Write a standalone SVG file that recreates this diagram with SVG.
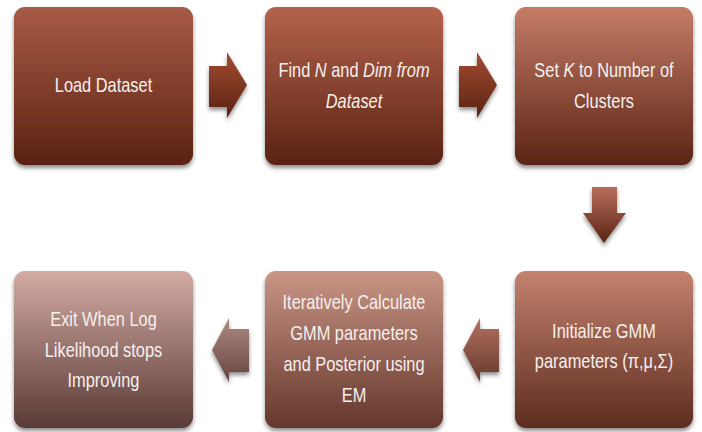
<svg xmlns="http://www.w3.org/2000/svg" width="702" height="432" viewBox="0 0 702 432">
<defs>
<linearGradient id="g1" x1="0" y1="0" x2="0" y2="1"><stop offset="0" stop-color="#a85b45"/><stop offset="1" stop-color="#5a2212"/></linearGradient>
<linearGradient id="g2" x1="0" y1="0" x2="0" y2="1"><stop offset="0" stop-color="#b4634c"/><stop offset="1" stop-color="#5a2212"/></linearGradient>
<linearGradient id="g3" x1="0" y1="0" x2="0" y2="1"><stop offset="0" stop-color="#c47c66"/><stop offset="1" stop-color="#5a2414"/></linearGradient>
<linearGradient id="g6" x1="0" y1="0" x2="0" y2="1"><stop offset="0" stop-color="#c4826f"/><stop offset="1" stop-color="#5c2c1e"/></linearGradient>
<linearGradient id="g5" x1="0" y1="0" x2="0" y2="1"><stop offset="0" stop-color="#c99585"/><stop offset="1" stop-color="#64362c"/></linearGradient>
<linearGradient id="g4" x1="0" y1="0" x2="0" y2="1"><stop offset="0" stop-color="#d3aba3"/><stop offset="1" stop-color="#5a3a36"/></linearGradient>
<linearGradient id="ga" x1="0" y1="0" x2="0" y2="1"><stop offset="0" stop-color="#a44c32"/><stop offset="1" stop-color="#5a2212"/></linearGradient>
<linearGradient id="gd" x1="0" y1="0" x2="0" y2="1"><stop offset="0" stop-color="#b86e5a"/><stop offset="1" stop-color="#5a2414"/></linearGradient>
<linearGradient id="gl1" x1="0" y1="0" x2="0" y2="1"><stop offset="0" stop-color="#b08a82"/><stop offset="1" stop-color="#644440"/></linearGradient>
<linearGradient id="gl2" x1="0" y1="0" x2="0" y2="1"><stop offset="0" stop-color="#b47262"/><stop offset="1" stop-color="#64382c"/></linearGradient>
<filter id="sh" x="-10%" y="-10%" width="120%" height="125%"><feDropShadow dx="0" dy="3" stdDeviation="2" flood-color="#000" flood-opacity="0.45"/></filter>
</defs>
<style>
.box{filter:url(#sh)}
text{font-family:"Liberation Sans",Arial,sans-serif;font-size:20px;fill:#f6f0ee;text-anchor:middle}
.i{font-style:italic}
</style>
<g id="connectors" filter="url(#sh)">
<path d="M209,66 H227 V52 L247,85 L227,118 V107 H209 Z" fill="url(#ga)"/>
<path d="M459,66 H477 V52 L497,85 L477,118 V107 H459 Z" fill="url(#ga)"/>
<path d="M592,187 H617 V213 H626 L604,243 L583,213 H592 Z" fill="url(#gd)"/>
<path d="M499,329 H480 V318 L463,350 L480,382 V372 H499 Z" fill="url(#gl2)"/>
<path d="M249,329 H229 V318 L212,350 L229,382 V372 H249 Z" fill="url(#gl1)"/>
</g>
<g id="load">
<rect class="box" x="14" y="7" width="179" height="158" rx="11" fill="url(#g1)"/>
<text transform="translate(103.5 92) scale(0.82 1)">Load Dataset</text>
</g>
<g id="find">
<rect class="box" x="265" y="7" width="178" height="158" rx="11" fill="url(#g2)"/>
<text transform="translate(354 77) scale(0.82 1)">Find <tspan class="i">N</tspan> and <tspan class="i">Dim from</tspan></text>
<text transform="translate(354 108) scale(0.82 1)" class="i">Dataset</text>
</g>
<g id="setk">
<rect class="box" x="515" y="7" width="178" height="158" rx="11" fill="url(#g3)"/>
<text transform="translate(604 77) scale(0.82 1)">Set <tspan class="i">K</tspan> to Number of</text>
<text transform="translate(604 108) scale(0.82 1)">Clusters</text>
</g>
<g id="init">
<rect class="box" x="515" y="271" width="178" height="157" rx="11" fill="url(#g6)"/>
<text transform="translate(604 338) scale(0.82 1)">Initialize GMM</text>
<text transform="translate(604 368) scale(0.82 1)">parameters (π,μ,Σ)</text>
</g>
<g id="iter">
<rect class="box" x="265" y="271" width="178" height="157" rx="11" fill="url(#g5)"/>
<text transform="translate(354 309) scale(0.82 1)">Iteratively Calculate</text>
<text transform="translate(354 340) scale(0.82 1)">GMM parameters</text>
<text transform="translate(354 371) scale(0.82 1)">and Posterior using</text>
<text transform="translate(354 402) scale(0.82 1)">EM</text>
</g>
<g id="exit">
<rect class="box" x="14" y="271" width="179" height="157" rx="11" fill="url(#g4)"/>
<text transform="translate(103.5 326) scale(0.82 1)">Exit When Log</text>
<text transform="translate(103.5 357) scale(0.82 1)">Likelihood stops</text>
<text transform="translate(103.5 387) scale(0.82 1)">Improving</text>
</g>
</svg>
